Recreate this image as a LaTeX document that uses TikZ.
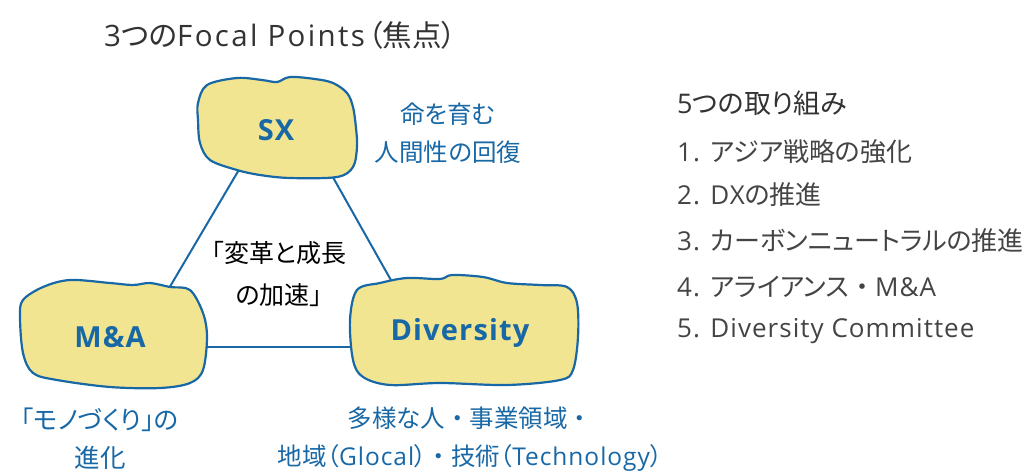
\documentclass[tikz,border=0pt]{standalone}
\usepackage{fontspec}
\setmainfont{Noto Sans CJK JP}[RawFeature=+palt]
\newfontfamily\jpf{Noto Sans CJK JP}
\newfontfamily\lt{Open Sans}[LetterSpace=4]
\newfontfamily\ltw{Open Sans}[LetterSpace=8]
\newcommand{\dotfw}{{\jpf ・}}
\definecolor{blu}{RGB}{24,104,166}
\definecolor{fillY}{RGB}{242,229,146}
\definecolor{txt}{RGB}{51,51,51}
\definecolor{lst}{RGB}{68,68,68}
\tikzset{
  blob/.style={draw=blu, fill=fillY, line width=2.2pt, line join=round},
  link/.style={draw=blu, line width=2pt},
  blobtext/.style={text=blu, font=\fontsize{29}{34}\selectfont\lt\bfseries, inner sep=0pt},
  bluelabel/.style={text=blu, font=\fontsize{24.5}{38}\selectfont, align=center, inner sep=0pt},
  centerlabel/.style={text=black, font=\fontsize{25}{42}\selectfont, align=center, inner sep=0pt},
  listitem/.style={text=lst, font=\fontsize{26}{30}\selectfont, anchor=west, inner sep=0pt},
}
\begin{document}
\begin{tikzpicture}[x=1pt,y=-1pt]
\useasboundingbox (0,0) rectangle (1030,471);
% title
\node[text=txt, font=\fontsize{29.5}{32}\selectfont, anchor=west, inner sep=0pt] (title) at (104,35) {{\ltw 3}つの{\ltw Focal Points}\kern3pt（焦点）};
% connector end points
\coordinate (sxL) at (240,168);
\coordinate (maT) at (168,290);
\coordinate (sxR) at (330,172);
\coordinate (dvT) at (392,282);
\coordinate (maR) at (200,347);
\coordinate (dvL) at (352,347);
\draw[link] (sxL) -- (maT);
\draw[link] (sxR) -- (dvT);
\draw[link] (maR) -- (dvL);
% blobs
\path[blob] plot[smooth cycle, tension=0.55] coordinates {
 (207,85) (237,78) (262,80) (277,82) (290,77) (315,79) (333,83) (347,93) (353,107)
 (356,128) (357,147) (353,167) (337,177) (290,178) (260,175) (237,170) (210,160) (200,143) (198,120) (198,103)};
\path[blob] plot[smooth cycle, tension=0.55] coordinates {
 (23,300) (43,287) (70,280) (110,283) (133,285) (150,283) (170,287) (190,290) (203,313)
 (207,337) (203,370) (190,383) (160,388) (110,387) (57,380) (33,373) (23,353) (20,317)};
\path[blob] plot[smooth cycle, tension=0.55] coordinates {
 (357,290) (380,283) (407,278) (440,279) (452,275) (483,277) (507,283) (540,285) (567,287)
 (577,303) (578,337) (573,370) (560,380) (507,385) (440,383) (390,385) (363,377) (353,360) (350,320)};
% blob labels
\node[blobtext] (sx) at (276,130) {SX};
\node[blobtext] (ma) at (110,337) {M\&A};
\node[blobtext] (dv) at (460,333) {Diversity};
% centre label
\node[centerlabel] (ctr) at (279,274) {「変革と成長\\の加速」};
% blue labels
\node[bluelabel] (sxlab) at (448,133) {命を育む\\人間性の回復};
\node[bluelabel, font=\fontsize{25.5}{38}\selectfont] (malab) at (100,439) {「モノづくり」の\\進化};
\node[bluelabel] (dvlab) at (470,439) {多様な人\dotfw 事業領域\dotfw\\地域（{\lt Glocal}）\dotfw 技術（{\lt Technology}）};
% list
\node[listitem, font=\fontsize{27}{30}\selectfont, text=txt] (head) at (677,103) {{\lt 5}つの取り組み};
\node[listitem] (i1) at (677,152) {{\lt 1. }アジア戦略の強化};
\node[listitem] (i2) at (677,195) {{\lt 2. DX}の推進};
\node[listitem] (i3) at (677,241) {{\lt 3. }カーボンニュートラルの推進};
\node[listitem] (i4) at (677,287) {{\lt 4. }アライアンス\dotfw{\lt M\&A}};
\node[listitem] (i5) at (677,331) {{\lt 5. Diversity Committee}};
\end{tikzpicture}
\end{document}
